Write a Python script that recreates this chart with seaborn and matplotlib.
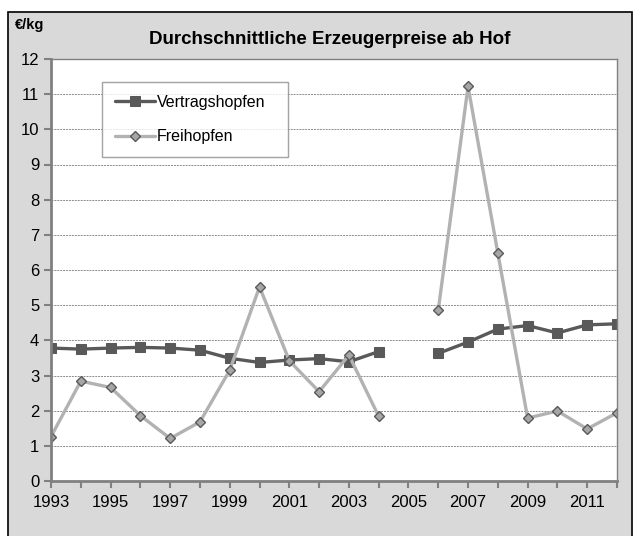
import numpy as np
import pandas as pd
import matplotlib
matplotlib.use("Agg")
import matplotlib.pyplot as plt
import seaborn as sns
from matplotlib.patches import Rectangle

jahre = list(range(1993, 2013))
vertragshopfen = [3.78, 3.75, 3.78, 3.80, 3.78, 3.72, 3.49, 3.37, 3.44, 3.48,
                  3.39, 3.68, np.nan, 3.63, 3.95, 4.32, 4.42, 4.21, 4.44, 4.47]
freihopfen = [1.26, 2.84, 2.66, 1.86, 1.21, 1.68, 3.15, 5.52, 3.42, 2.54,
              3.58, 1.84, np.nan, 4.86, 11.22, 6.48, 1.79, 1.99, 1.48, 1.94]
serien = ["Vertragshopfen", "Freihopfen"]
x_labels = list(range(1993, 2012, 2))

rows = []
for name, werte in zip(serien, [vertragshopfen, freihopfen]):
    abschnitt = 0
    for j, v in zip(jahre, werte):
        if np.isnan(v):
            abschnitt += 1
            continue
        rows.append({"Jahr": j, "Preis": v, "Sorte": name, "Abschnitt": abschnitt})
df = pd.DataFrame(rows)

sns.set_theme(style="white")
plt.rcParams["font.family"] = ["Liberation Sans", "DejaVu Sans"]
plt.rcParams["text.color"] = "black"

fig = plt.figure(figsize=(6.4, 5.36), dpi=100)
fig.patch.set_facecolor("white")
fig.patches.append(Rectangle((8 / 640, -0.05), 624 / 640, 1 - 12 / 536 + 0.05,
                             transform=fig.transFigure, facecolor="#d9d9d9",
                             edgecolor="black", linewidth=1.2, zorder=-5))
ax = fig.add_axes([51 / 640, 1 - 481 / 536, 566 / 640, 422 / 536])
ax.set_zorder(2)
ax.set_facecolor("white")

sns.lineplot(data=df, x="Jahr", y="Preis", hue="Sorte", style="Sorte",
             units="Abschnitt", estimator=None, ax=ax,
             palette={"Vertragshopfen": "#595959", "Freihopfen": "#b2b2b2"},
             markers={"Vertragshopfen": "s", "Freihopfen": "D"},
             dashes=False, linewidth=2.4, markersize=6.5)

for line in ax.lines:
    if line.get_marker() == "D":
        line.set_markerfacecolor("#a6a6a6")
        line.set_markeredgecolor("#595959")
        line.set_markersize(5.5)
        line.set_markeredgewidth(1.0)
    else:
        line.set_markerfacecolor("#595959")
        line.set_markeredgecolor("#595959")

ax.set_xlim(1993, 2012)
ax.set_ylim(0, 12)
ax.set_xticks(jahre, minor=True)
ax.set_xticks(x_labels)
ax.set_xticklabels([str(j) for j in x_labels], fontsize=12)
ax.set_yticks(range(0, 13))
ax.set_yticklabels([str(v) for v in range(0, 13)], fontsize=12)
ax.tick_params(axis="both", which="both", direction="out", length=5, width=1.5,
               color="#808080", labelcolor="black", left=True, bottom=True)
ax.tick_params(axis="x", which="major", pad=5)
ax.set_xlabel("")
ax.set_ylabel("")
ax.yaxis.grid(True, linestyle=(0, (2, 1)), color="#8c8c8c", linewidth=0.7)
ax.set_axisbelow(True)
for s in ["left", "bottom"]:
    ax.spines[s].set_color("#808080")
    ax.spines[s].set_linewidth(2)
for s in ["top", "right"]:
    ax.spines[s].set_color("#808080")
    ax.spines[s].set_linewidth(1)

# Legendenkasten wie im Original etwas breiter
leg = ax.legend(loc="upper left", bbox_to_anchor=(0.09, 0.745, 186 / 566, 0.2),
                mode="expand", borderaxespad=0,
                fontsize=11.5, fancybox=False, frameon=True, handlelength=2.5,
                labelspacing=1.2, borderpad=0.8, handletextpad=0.15)
leg.get_frame().set_edgecolor("#8c8c8c")
leg.get_frame().set_linewidth(1)
for t in leg.get_texts():
    t.set_color("black")

fig.text(330 / 640, 1 - 40 / 536, "Durchschnittliche Erzeugerpreise ab Hof",
         ha="center", va="center", fontsize=13.5, fontweight="bold", color="black")
fig.text(15 / 640, 1 - 25 / 536, "€/kg", ha="left", va="center",
         fontsize=10.5, fontweight="bold", color="black")

fig.savefig("out.png", dpi=100)
